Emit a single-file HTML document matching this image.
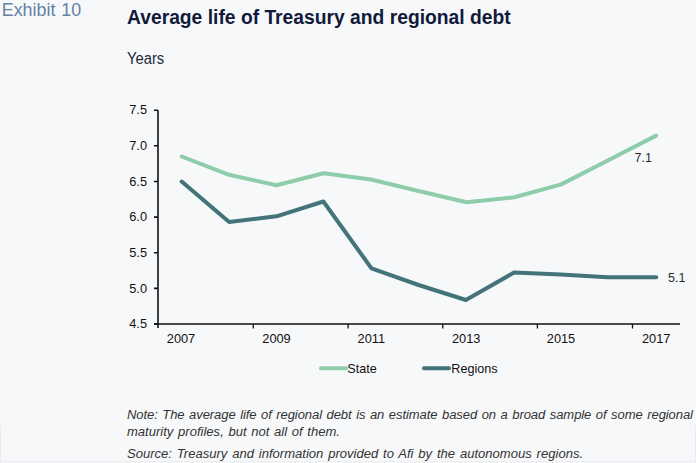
<!DOCTYPE html>
<html><head><meta charset="utf-8">
<style>
html,body{margin:0;padding:0;background:#f7f8fa;}
body{width:696px;height:463px;overflow:hidden;position:relative;font-family:"Liberation Sans",sans-serif;}
svg{position:absolute;left:0;top:0;}
</style></head>
<body>
<svg width="696" height="463" viewBox="0 0 696 463" xmlns="http://www.w3.org/2000/svg" font-family="Liberation Sans, sans-serif">
  <!-- faint frame -->
  <line x1="0.5" y1="425" x2="0.5" y2="463" stroke="#e9ebee" stroke-width="1"/>
  <line x1="695.5" y1="425" x2="695.5" y2="463" stroke="#e9ebee" stroke-width="1"/>
  <line x1="0" y1="461.8" x2="696" y2="461.8" stroke="#e9ebee" stroke-width="1"/>

  <text transform="translate(1.8 16.2) scale(0.96 1)" font-size="18.6" fill="#6581a6" word-spacing="1">Exhibit 10</text>
  <text transform="translate(127 24) scale(0.936 1)" x="0" y="0" font-size="20.6" font-weight="bold" fill="#111a3a">Average life of Treasury and regional debt</text>
  <text transform="translate(127 63.9) scale(0.935 1)" font-size="15.8" fill="#1e2740">Years</text>

  <!-- y axis labels -->
  <g font-size="12.8" fill="#111111" text-anchor="end">
    <text x="147" y="114.3">7.5</text>
    <text x="147" y="149.9">7.0</text>
    <text x="147" y="185.6">6.5</text>
    <text x="147" y="221.2">6.0</text>
    <text x="147" y="256.8">5.5</text>
    <text x="147" y="292.5">5.0</text>
    <text x="147" y="328.1">4.5</text>
  </g>
  <!-- axes -->
  <g stroke="#111111" stroke-width="1.6" fill="none">
    <path d="M158 110.2 V328"/>
    <path d="M154 110.2 H158 M154 145.8 H158 M154 181.5 H158 M154 217.1 H158 M154 252.7 H158 M154 288.4 H158 M154 324 H158"/>
    <path d="M154 324 H680"/>
    <path stroke-width="1.3" d="M253.3 324 V328.5 M348.1 324 V328.5 M442.8 324 V328.5 M537.4 324 V328.5 M632.5 324 V328.5"/>
  </g>
  <!-- x labels -->
  <g font-size="12.8" fill="#111111" text-anchor="middle">
    <text x="181" y="343">2007</text>
    <text x="276.5" y="343">2009</text>
    <text x="371.3" y="343">2011</text>
    <text x="466.2" y="343">2013</text>
    <text x="561" y="343">2015</text>
    <text x="656.2" y="343">2017</text>
  </g>

  <!-- lines -->
  <polyline fill="none" stroke="#8fcdaa" stroke-width="4" stroke-linejoin="round" stroke-linecap="round"
    points="181.7,156.5 229.1,174.8 276.5,185.3 323.6,173.3 371,179.5 418.5,191 466.5,202.3 514.5,197.3 561.2,184.4 608.8,160 656.1,135.6"/>
  <polyline fill="none" stroke="#427479" stroke-width="4" stroke-linejoin="round" stroke-linecap="round"
    points="181.7,181.6 229.1,222 276.5,216.3 323.4,201.5 371.5,268.4 418.6,285 465.9,300 514,272.6 560.8,274.6 607.5,277.3 656.3,277.3"/>

  <text x="634.5" y="162" font-size="12.5" fill="#2b2b2b">7.1</text>
  <text x="668" y="282" font-size="12.5" fill="#2b2b2b">5.1</text>

  <!-- legend -->
  <line x1="321" y1="368.2" x2="346" y2="368.2" stroke="#8fcdaa" stroke-width="4" stroke-linecap="round"/>
  <text x="347.3" y="372.5" font-size="12.6" fill="#111111">State</text>
  <line x1="424" y1="368.2" x2="449" y2="368.2" stroke="#427479" stroke-width="4" stroke-linecap="round"/>
  <text x="451.3" y="372.5" font-size="12.6" fill="#111111">Regions</text>

  <!-- notes -->
  <g font-size="13.05" font-style="italic" fill="#333333" word-spacing="1.05">
    <text x="127" y="419" textLength="566" lengthAdjust="spacing">Note: The average life of regional debt is an estimate based on a broad sample of some regional</text>
    <text x="127" y="436">maturity profiles, but not all of them.</text>
    <text x="127" y="458" word-spacing="1.22">Source: Treasury and information provided to Afi by the autonomous regions.</text>
  </g>
</svg>
</body></html>
